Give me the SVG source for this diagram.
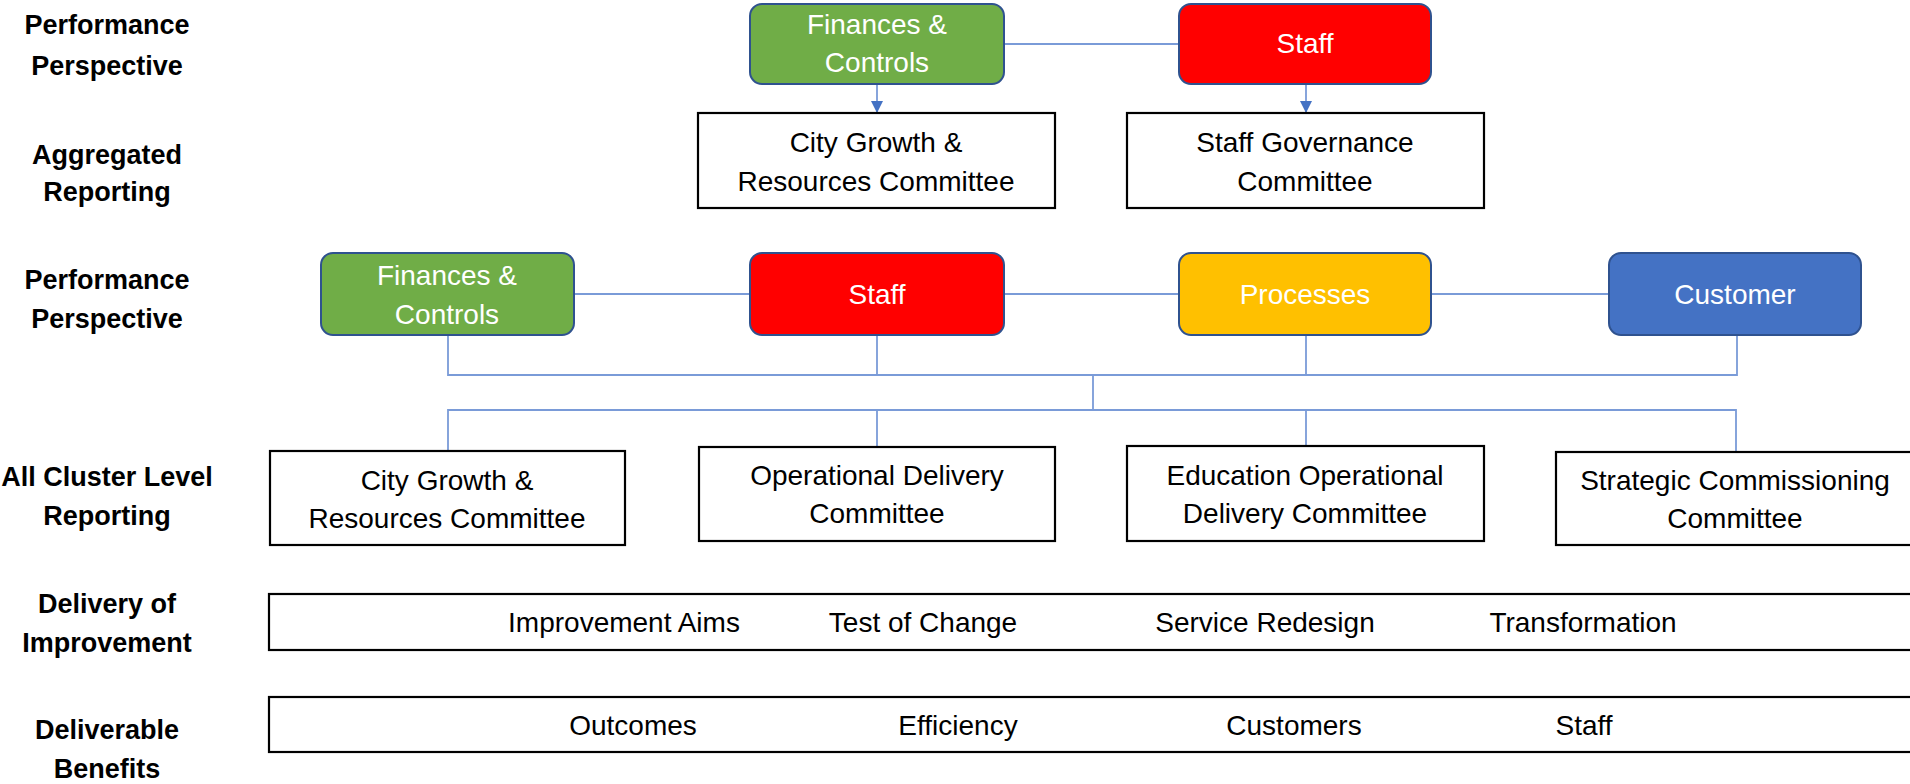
<svg xmlns="http://www.w3.org/2000/svg" width="1910" height="784" viewBox="0 0 1910 784">
<defs>
<marker id="arr" markerWidth="12" markerHeight="14" refX="11" refY="6" orient="auto" markerUnits="userSpaceOnUse">
<path d="M0,0 L12,6 L0,12 Z" fill="#4472C4"/>
</marker>
<style>
.lbl{font-family:"Liberation Sans",Arial,sans-serif;font-weight:bold;font-size:27px;fill:#000;text-anchor:middle}
.t{font-family:"Liberation Sans",Arial,sans-serif;font-size:28px;fill:#000;text-anchor:middle}
.w{font-family:"Liberation Sans",Arial,sans-serif;font-size:28px;fill:#fff;text-anchor:middle}
.box{fill:#fff;stroke:#000;stroke-width:2.2}
.rb{stroke:#2F528F;stroke-width:2}
.c{fill:none;stroke:#7A9BD8;stroke-width:1.8}
</style>
</defs>
<rect width="1910" height="784" fill="#fff"/>

<g id="row-labels">
<text class="lbl" x="107" y="34">Performance</text>
<text class="lbl" x="107" y="75">Perspective</text>
<text class="lbl" x="107" y="164">Aggregated</text>
<text class="lbl" x="107" y="201">Reporting</text>
<text class="lbl" x="107" y="289">Performance</text>
<text class="lbl" x="107" y="328">Perspective</text>
<text class="lbl" x="107" y="486">All Cluster Level</text>
<text class="lbl" x="107" y="525">Reporting</text>
<text class="lbl" x="107" y="613">Delivery of</text>
<text class="lbl" x="107" y="652">Improvement</text>
<text class="lbl" x="107" y="739">Deliverable</text>
<text class="lbl" x="107" y="778">Benefits</text>
</g>

<g id="connectors">
<line class="c" x1="1004" y1="44" x2="1179" y2="44"/>
<line class="c" x1="877" y1="84" x2="877" y2="112" marker-end="url(#arr)"/>
<line class="c" x1="1306" y1="84" x2="1306" y2="112" marker-end="url(#arr)"/>
<line class="c" x1="574" y1="294" x2="750" y2="294"/>
<line class="c" x1="1004" y1="294" x2="1179" y2="294"/>
<line class="c" x1="1431" y1="294" x2="1609" y2="294"/>
<polyline class="c" points="448,335 448,375 1737,375 1737,335"/>
<line class="c" x1="877" y1="335" x2="877" y2="375"/>
<line class="c" x1="1306" y1="335" x2="1306" y2="375"/>
<line class="c" x1="1093" y1="375" x2="1093" y2="410"/>
<polyline class="c" points="448,451 448,410 1736,410 1736,452"/>
<line class="c" x1="877" y1="410" x2="877" y2="447"/>
<line class="c" x1="1306" y1="410" x2="1306" y2="446"/>
</g>

<g id="top-finances">
<rect class="rb" x="750" y="4" width="254" height="80" rx="12" fill="#70AD47"/>
<text class="w" x="877" y="34">Finances &amp;</text>
<text class="w" x="877" y="72">Controls</text>
</g>
<g id="top-staff">
<rect class="rb" x="1179" y="4" width="252" height="80" rx="12" fill="#FF0000"/>
<text class="w" x="1305" y="53">Staff</text>
</g>

<g id="agg-city-growth">
<rect class="box" x="698" y="113" width="357" height="95"/>
<text class="t" x="876" y="152">City Growth &amp;</text>
<text class="t" x="876" y="191">Resources Committee</text>
</g>
<g id="agg-staff-governance">
<rect class="box" x="1127" y="113" width="357" height="95"/>
<text class="t" x="1305" y="152">Staff Governance</text>
<text class="t" x="1305" y="191">Committee</text>
</g>

<g id="mid-finances">
<rect class="rb" x="321" y="253" width="253" height="82" rx="12" fill="#70AD47"/>
<text class="w" x="447" y="285">Finances &amp;</text>
<text class="w" x="447" y="324">Controls</text>
</g>
<g id="mid-staff">
<rect class="rb" x="750" y="253" width="254" height="82" rx="12" fill="#FF0000"/>
<text class="w" x="877" y="304">Staff</text>
</g>
<g id="mid-processes">
<rect class="rb" x="1179" y="253" width="252" height="82" rx="12" fill="#FFC000"/>
<text class="w" x="1305" y="304">Processes</text>
</g>
<g id="mid-customer">
<rect class="rb" x="1609" y="253" width="252" height="82" rx="12" fill="#4472C4"/>
<text class="w" x="1735" y="304">Customer</text>
</g>

<g id="cl-city-growth">
<rect class="box" x="270" y="451" width="355" height="94"/>
<text class="t" x="447" y="490">City Growth &amp;</text>
<text class="t" x="447" y="528">Resources Committee</text>
</g>
<g id="cl-operational">
<rect class="box" x="699" y="447" width="356" height="94"/>
<text class="t" x="877" y="485">Operational Delivery</text>
<text class="t" x="877" y="523">Committee</text>
</g>
<g id="cl-education">
<rect class="box" x="1127" y="446" width="357" height="95"/>
<text class="t" x="1305" y="485">Education Operational</text>
<text class="t" x="1305" y="523">Delivery Committee</text>
</g>
<g id="cl-strategic">
<rect class="box" x="1556" y="452" width="360" height="93"/>
<text class="t" x="1735" y="490">Strategic Commissioning</text>
<text class="t" x="1735" y="528">Committee</text>
</g>

<g id="delivery-bar">
<rect class="box" x="269" y="594" width="1650" height="56"/>
<text class="t" x="624" y="632">Improvement Aims</text>
<text class="t" x="923" y="632">Test of Change</text>
<text class="t" x="1265" y="632">Service Redesign</text>
<text class="t" x="1583" y="632">Transformation</text>
</g>
<g id="benefits-bar">
<rect class="box" x="269" y="697" width="1650" height="55"/>
<text class="t" x="633" y="735">Outcomes</text>
<text class="t" x="958" y="735">Efficiency</text>
<text class="t" x="1294" y="735">Customers</text>
<text class="t" x="1584" y="735">Staff</text>
</g>
</svg>
